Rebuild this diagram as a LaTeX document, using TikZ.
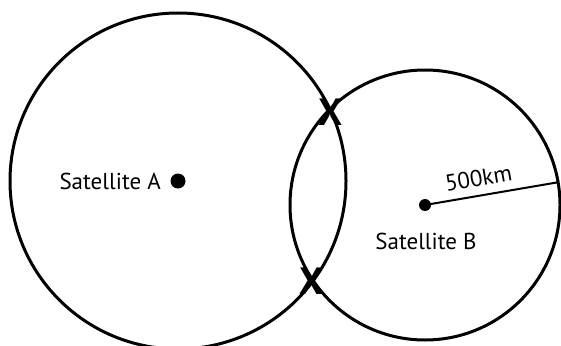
\documentclass[tikz,border=0pt]{standalone}
\usepackage{fontspec}
\setmainfont{PT Sans}
\usetikzlibrary{calc}
\begin{document}
\begin{tikzpicture}[x=1pt,y=-1pt,
  ring/.style={draw=black,line width=3pt},
  dotmark/.style={circle,fill=black,inner sep=0pt},
  lbl/.style={font=\fontsize{23}{26}\selectfont,inner sep=0pt},
  xmark/.style={font=\fontsize{38}{40}\selectfont\bfseries,inner sep=0pt}]
\useasboundingbox (0,0) rectangle (561,345);
\coordinate (A) at (178,181);
\coordinate (B) at (425,205);
\draw[ring] (A) circle[radius=168];
\draw[ring] (B) circle[radius=135];
\node[dotmark,minimum size=15pt] (dA) at (A) {};
\node[dotmark,minimum size=12pt] (dB) at (B) {};
\coordinate (R) at ($(B)+(-9.7:136)$);
\draw[line width=2pt] (dB.center) -- node[lbl,sloped,above=8pt,pos=0.42] (km) {500km} (R);
\node[lbl,anchor=east] (la) at (161,181) {Satellite A};
\node[lbl] (lb) at (426,241) {Satellite B};
\node[xmark] (x1) at (331,112) {X};
\node[xmark] (x2) at (312,281) {X};
\end{tikzpicture}
\end{document}
